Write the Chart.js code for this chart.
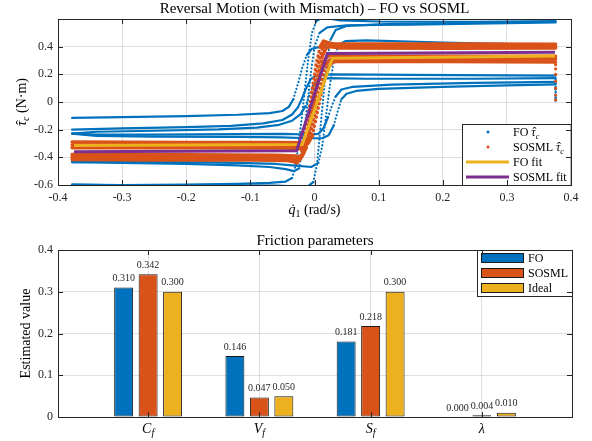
<!DOCTYPE html>
<html>
<head>
<meta charset="utf-8">
<script src="https://cdn.jsdelivr.net/npm/chart.js@4.4.1/dist/chart.umd.min.js"></script>
<style>
  body { margin: 0; background: #fff; }
  canvas { display: block; }
</style>
</head>
<body>
<canvas id="motion" width="592" height="225"></canvas>
<canvas id="params" width="592" height="216"></canvas>
<script>
// ---- data ----
// top plot: [velocity (rad/s), torque estimate (N·m)]
const foCurves = [
  [[-0.378,-0.598],[-0.3,-0.600],[-0.2,-0.598],[-0.12,-0.592],[-0.07,-0.585],[-0.045,-0.575],[-0.035,-0.55],[-0.029,-0.45],[-0.022,-0.2],[-0.016,0.05],[-0.010,0.3],[-0.004,0.5],[0.003,0.585],[0.012,0.61],[0.022,0.605],[0.04,0.59],[0.1,0.582],[0.25,0.58],[0.376,0.585]],
  [[-0.378,-0.598],[-0.3,-0.603],[-0.15,-0.603],[-0.06,-0.605],[-0.03,-0.61],[-0.012,-0.615],[-0.002,-0.58],[0.004,-0.45],[0.009,-0.2],[0.014,0.05],[0.019,0.28],[0.025,0.45],[0.033,0.52],[0.05,0.55],[0.12,0.565],[0.25,0.572],[0.376,0.58]],
  [[-0.378,-0.435],[-0.3,-0.44],[-0.2,-0.448],[-0.12,-0.458],[-0.07,-0.47],[-0.045,-0.485],[-0.032,-0.5],[-0.024,-0.48],[-0.018,-0.3],[-0.012,-0.05],[-0.006,0.2],[0.0,0.4],[0.008,0.5],[0.02,0.54],[0.05,0.555],[0.15,0.56],[0.376,0.575]],
  [[-0.378,-0.435],[-0.3,-0.432],[-0.2,-0.435],[-0.12,-0.44],[-0.06,-0.448],[-0.03,-0.46],[-0.005,-0.47],[0.006,-0.44],[0.012,-0.32],[0.018,-0.1],[0.024,0.12],[0.03,0.3],[0.037,0.41],[0.048,0.44],[0.08,0.445],[0.2,0.43],[0.376,0.412]],
  [[-0.378,-0.228],[-0.34,-0.245],[-0.25,-0.25],[-0.12,-0.252],[-0.05,-0.256],[-0.01,-0.262],[0.012,-0.262],[0.022,-0.24],[0.03,-0.17],[0.036,-0.07],[0.042,0.02],[0.05,0.06],[0.065,0.08],[0.1,0.095],[0.2,0.11],[0.3,0.12],[0.376,0.128]],
  [[-0.378,-0.228],[-0.34,-0.236],[-0.25,-0.236],[-0.12,-0.232],[-0.05,-0.23],[-0.01,-0.235],[0.006,-0.23],[0.014,-0.19],[0.021,-0.11],[0.027,-0.03],[0.033,0.04],[0.042,0.09],[0.06,0.11],[0.12,0.125],[0.25,0.138],[0.376,0.145]],
  [[-0.378,-0.228],[-0.34,-0.215],[-0.25,-0.208],[-0.15,-0.198],[-0.09,-0.185],[-0.055,-0.165],[-0.035,-0.135],[-0.022,-0.09],[-0.014,-0.03],[-0.008,0.05],[-0.002,0.12],[0.006,0.16],[0.02,0.172],[0.08,0.168],[0.25,0.168],[0.376,0.172]],
  [[-0.378,-0.2],[-0.3,-0.19],[-0.2,-0.182],[-0.13,-0.172],[-0.08,-0.155],[-0.05,-0.13],[-0.035,-0.09],[-0.026,-0.04],[-0.02,0.02],[-0.013,0.1],[-0.006,0.165],[0.004,0.195],[0.03,0.2],[0.15,0.196],[0.376,0.19]],
  [[-0.378,-0.115],[-0.3,-0.11],[-0.2,-0.102],[-0.12,-0.092],[-0.07,-0.08],[-0.05,-0.065],[-0.04,-0.035],[-0.033,0.02],[-0.026,0.13],[-0.019,0.25],[-0.012,0.34],[-0.004,0.385],[0.01,0.4],[0.06,0.403],[0.2,0.4],[0.376,0.398]]
];
const foEndDrop = [[0.376,0.16],[0.376,0.135],[0.376,0.11],[0.376,0.09],[0.376,0.07],[0.376,0.05],[0.376,0.035],[0.376,0.02],[0.376,0.01]];

const sosmlCurves = [
  [[-0.378,-0.415],[-0.25,-0.42],[-0.1,-0.42],[-0.045,-0.422],[-0.033,-0.43],[-0.027,-0.44],[-0.021,-0.39],[-0.013,-0.2],[-0.005,0.05],[0.003,0.28],[0.009,0.40],[0.014,0.44],[0.02,0.43],[0.03,0.42],[0.1,0.42],[0.25,0.42],[0.376,0.418]],
  [[-0.378,-0.4],[-0.25,-0.4],[-0.1,-0.402],[-0.04,-0.405],[-0.03,-0.415],[-0.023,-0.42],[-0.017,-0.37],[-0.009,-0.18],[-0.001,0.08],[0.007,0.3],[0.013,0.4],[0.019,0.425],[0.028,0.405],[0.1,0.4],[0.376,0.4]],
  [[-0.378,-0.38],[-0.2,-0.382],[-0.06,-0.385],[-0.03,-0.39],[-0.02,-0.395],[-0.013,-0.33],[-0.005,-0.12],[0.003,0.12],[0.011,0.32],[0.018,0.39],[0.026,0.4],[0.04,0.39],[0.2,0.388],[0.376,0.39]],
  [[-0.378,-0.33],[-0.2,-0.33],[-0.06,-0.332],[-0.03,-0.335],[-0.018,-0.34],[-0.011,-0.28],[-0.003,-0.08],[0.005,0.13],[0.013,0.29],[0.021,0.335],[0.03,0.34],[0.05,0.332],[0.2,0.33],[0.376,0.33]],
  [[-0.378,-0.31],[-0.2,-0.31],[-0.06,-0.312],[-0.025,-0.315],[-0.014,-0.32],[-0.007,-0.26],[0.001,-0.07],[0.009,0.12],[0.017,0.27],[0.025,0.31],[0.035,0.315],[0.2,0.31],[0.376,0.31]],
  [[-0.378,-0.29],[-0.2,-0.292],[-0.06,-0.293],[-0.02,-0.295],[-0.01,-0.3],[-0.003,-0.24],[0.005,-0.06],[0.013,0.12],[0.021,0.25],[0.029,0.29],[0.04,0.295],[0.2,0.292],[0.376,0.29]]
];
const sosmlEndDrop = [[0.376,0.27],[0.376,0.24],[0.376,0.2],[0.376,0.15],[0.376,0.1],[0.376,0.05],[0.376,0.015]];

const foFit = [[-0.375,-0.315],[-0.019,-0.308],[0.028,0.316],[0.375,0.332]];
const sosmlFit = [[-0.375,-0.36],[-0.028,-0.352],[0.02,0.35],[0.375,0.36]];

const motionSeries = ['FO τ̂_c', 'SOSML τ̂_c', 'FO fit', 'SOSML fit'];

// bottom plot
const params = ['C_f', 'V_f', 'S_f', 'λ'];
const barSeries = ['FO', 'SOSML', 'Ideal'];
const foVals = [0.310, 0.146, 0.181, 0.000];
const sosmlVals = [0.342, 0.047, 0.218, 0.004];
const idealVals = [0.300, 0.050, 0.300, 0.010];

// ---- styling ----
const BLUE = '#0072BD', ORANGE = '#D95319', YELLOW = '#EDB120', PURPLE = '#7E2F8E';
const AX = '#262626', GRID = 'rgba(38,38,38,0.15)';
const FONT = '"Liberation Serif", "Times New Roman", serif';

// tiny latex-ish text: "_x" makes a subscript, combining hat / dot become accents
function tex(s, allItalic) {
  const ch = Array.from(s), out = [];
  for (let i = 0; i < ch.length; i++) {
    let c = ch[i], sub = false;
    if (c === '_') { sub = true; c = ch[++i]; }
    let acc = null;
    if (ch[i + 1] === '\u0302') { acc = '\u02C6'; i++; }
    else if (ch[i + 1] === '\u0307') { acc = '\u02D9'; i++; }
    const it = allItalic ? /\p{L}/u.test(c) : (acc !== null || (sub && /[a-z]/.test(c)));
    out.push({ c, sub, acc, it });
  }
  return out;
}
const fontFor = (p, size) => `${p.it ? 'italic ' : ''}${p.sub ? Math.round(size * 0.7) : size}px ${FONT}`;
function texWidth(ctx, parts, size) {
  let w = 0;
  parts.forEach(p => { ctx.font = fontFor(p, size); w += ctx.measureText(p.c).width; });
  return w;
}
function drawTex(ctx, parts, x, y, size, align) {
  let cx = align === 'center' ? x - texWidth(ctx, parts, size) / 2 : x;
  ctx.textBaseline = 'alphabetic';
  parts.forEach(p => {
    ctx.font = fontFor(p, size);
    ctx.textAlign = 'left';
    const pw = ctx.measureText(p.c).width;
    ctx.fillText(p.c, cx, y + (p.sub ? size * 0.22 : 0));
    if (p.acc) {
      ctx.font = fontFor({}, size);
      ctx.textAlign = 'center';
      ctx.fillText(p.acc, cx + pw / 2 + size * 0.08, y);
    }
    cx += pw;
  });
}

function drawLegend(ctx, a, items, anchor) {
  const size = 12;
  const tw = Math.max(...items.map(it => texWidth(ctx, tex(it.label), size)));
  const w = 51 + tw + 4, h = 15 * items.length + 1;
  const x0 = Math.round(a.right - w), y0 = Math.round(anchor === 'bottom' ? a.bottom - h : a.top);
  ctx.fillStyle = '#fff';
  ctx.fillRect(x0, y0, w, h);
  ctx.strokeStyle = AX; ctx.lineWidth = 1;
  ctx.strokeRect(x0 + 0.5, y0 + 0.5, w, h);
  items.forEach((it, i) => {
    const cy = y0 + 8 + 15 * i;
    if (it.kind === 'dot') {
      ctx.fillStyle = it.color;
      ctx.beginPath(); ctx.arc(x0 + 26, cy, 1.5, 0, Math.PI * 2); ctx.fill();
    } else if (it.kind === 'line') {
      ctx.strokeStyle = it.color; ctx.lineWidth = 3;
      ctx.beginPath(); ctx.moveTo(x0 + 4, cy); ctx.lineTo(x0 + 47, cy); ctx.stroke();
    } else {
      ctx.fillStyle = it.color; ctx.fillRect(x0 + 4, cy - 5, 43, 10);
      ctx.strokeStyle = '#1a1a1a'; ctx.lineWidth = 1; ctx.strokeRect(x0 + 4.5, cy - 4.5, 42, 9);
    }
    ctx.fillStyle = '#000';
    drawTex(ctx, tex(it.label), x0 + 51, cy + 4, size, 'left');
  });
}

// axes box, inward ticks, titles and legend, matlab style
function makeDecor(cfg) {
  return {
    id: 'decor',
    afterDraw(chart) {
      const ctx = chart.ctx, a = chart.chartArea;
      const xs = chart.scales.x, ys = chart.scales.y;
      ctx.save();
      if (cfg.legend) drawLegend(ctx, a, cfg.legend, cfg.legendAnchor);
      ctx.strokeStyle = AX; ctx.lineWidth = 1;
      ctx.beginPath();
      xs.ticks.forEach(t => {
        const p = Math.round(xs.getPixelForValue(t.value)) + 0.5;
        ctx.moveTo(p, a.bottom); ctx.lineTo(p, a.bottom - 5);
        ctx.moveTo(p, a.top); ctx.lineTo(p, a.top + 5);
      });
      ys.ticks.forEach(t => {
        const p = Math.round(ys.getPixelForValue(t.value)) + 0.5;
        ctx.moveTo(a.left, p); ctx.lineTo(a.left + 5, p);
        ctx.moveTo(a.right, p); ctx.lineTo(a.right - 5, p);
      });
      ctx.stroke();
      ctx.strokeRect(Math.round(a.left) + 0.5, Math.round(a.top) + 0.5, Math.round(a.right - a.left), Math.round(a.bottom - a.top));

      ctx.fillStyle = '#000';
      const mid = (a.left + a.right) / 2;
      drawTex(ctx, tex(cfg.title), mid, cfg.titleY, 15, 'center');
      if (cfg.xTitle) drawTex(ctx, tex(cfg.xTitle), mid, cfg.xTitleY, 14, 'center');
      if (cfg.xLabels) {
        xs.ticks.forEach((t, i) => drawTex(ctx, tex(cfg.xLabels[i], true), xs.getPixelForValue(t.value), cfg.xLabelY, 14, 'center'));
      }
      ctx.translate(cfg.yTitleX, (a.top + a.bottom) / 2);
      ctx.rotate(-Math.PI / 2);
      drawTex(ctx, tex(cfg.yTitle), 0, 0, 14, 'center');
      ctx.restore();
    }
  };
}

const tickFont = { family: FONT, size: 12 };
const steep = (c, dash) => (Math.abs(c.p1.y - c.p0.y) > 2.5 * Math.abs(c.p1.x - c.p0.x) ? dash : undefined);
const pts = arr => arr.map(([x, y]) => ({ x, y }));

function curveSet(curves, label, color, width, dash, order) {
  return curves.map(c => ({
    label, data: pts(c), showLine: true, borderColor: color, backgroundColor: color,
    borderWidth: width, pointRadius: 0, borderCapStyle: 'round', borderJoinStyle: 'round',
    segment: { borderDash: ctx => steep(ctx, dash) }, order
  }));
}
function dots(arr, label, color, r, order) {
  return { label, data: pts(arr), showLine: false, pointRadius: r, pointBorderWidth: 0, backgroundColor: color, order };
}
function fitLine(arr, label, color, order) {
  return { label, data: pts(arr), showLine: true, borderColor: color, borderWidth: 3, pointRadius: 0, order };
}

new Chart(document.getElementById('motion'), {
  type: 'scatter',
  data: {
    datasets: [
      ...curveSet(foCurves, motionSeries[0], BLUE, 2.2, [0.1, 3.5], 3),
      dots(foEndDrop, motionSeries[0], BLUE, 1.2, 3),
      ...curveSet(sosmlCurves, motionSeries[1], ORANGE, 3.5, [0.1, 4.5], 2),
      dots(sosmlEndDrop, motionSeries[1], ORANGE, 1.6, 2),
      fitLine(foFit, motionSeries[2], YELLOW, 1),
      fitLine(sosmlFit, motionSeries[3], PURPLE, 0)
    ]
  },
  options: {
    responsive: false,
    animation: false,
    layout: { padding: { top: 19, right: 21, left: 0, bottom: 0 } },
    plugins: { legend: { display: false }, tooltip: { enabled: false } },
    scales: {
      x: {
        min: -0.4, max: 0.4,
        afterFit: s => { s.height = 40; },
        ticks: { stepSize: 0.1, padding: 6, color: AX, font: tickFont, callback: v => String(+v.toFixed(1)) },
        grid: { color: GRID, drawTicks: false },
        border: { display: false }
      },
      y: {
        min: -0.6, max: 0.6,
        afterFit: s => { s.width = 58; },
        ticks: { stepSize: 0.2, padding: 5, color: AX, font: tickFont,
                 callback: v => (v > 0.59 ? '' : String(+v.toFixed(1))) },
        grid: { color: GRID, drawTicks: false },
        border: { display: false }
      }
    }
  },
  plugins: [makeDecor({
    title: 'Reversal Motion (with Mismatch) – FO vs SOSML', titleY: 13,
    xTitle: 'q̇_1 (rad/s)', xTitleY: 214,
    yTitle: 'τ̂_c (N·m)', yTitleX: 26,
    legendAnchor: 'bottom',
    legend: [
      { label: motionSeries[0], color: BLUE, kind: 'dot' },
      { label: motionSeries[1], color: ORANGE, kind: 'dot' },
      { label: motionSeries[2], color: YELLOW, kind: 'line' },
      { label: motionSeries[3], color: PURPLE, kind: 'line' }
    ]
  })]
});

// value labels above bars
const barLabels = {
  id: 'barLabels',
  afterDatasetsDraw(chart) {
    const ctx = chart.ctx;
    ctx.save();
    ctx.font = `10px ${FONT}`;
    ctx.fillStyle = AX;
    ctx.textAlign = 'center';
    ctx.textBaseline = 'bottom';
    chart.data.datasets.forEach((ds, i) => {
      chart.getDatasetMeta(i).data.forEach((bar, j) => {
        ctx.fillText(ds.data[j].y.toFixed(3), bar.x, bar.y - 4);
      });
    });
    ctx.restore();
  }
};

const barColors = [BLUE, ORANGE, YELLOW];
const barValues = [foVals, sosmlVals, idealVals];

new Chart(document.getElementById('params'), {
  type: 'bar',
  data: {
    datasets: barSeries.map((name, k) => ({
      label: name,
      data: barValues[k].map((v, i) => ({ x: i + 1, y: v })),
      backgroundColor: barColors[k],
      borderColor: '#1a1a1a',
      borderWidth: 1,
      borderSkipped: false,
      categoryPercentage: 0.66,
      barPercentage: 0.775
    }))
  },
  options: {
    responsive: false,
    animation: false,
    layout: { padding: { top: 25, right: 20, left: 0, bottom: 0 } },
    plugins: { legend: { display: false }, tooltip: { enabled: false } },
    scales: {
      x: {
        type: 'linear', min: 0.19, max: 4.81, offset: false,
        afterBuildTicks: s => { s.ticks = params.map((_, i) => ({ value: i + 1 })); },
        afterFit: s => { s.height = 24; },
        ticks: { display: false },
        grid: { color: GRID, drawTicks: false, offset: false },
        border: { display: false }
      },
      y: {
        min: 0, max: 0.4,
        afterFit: s => { s.width = 58; },
        ticks: { stepSize: 0.1, padding: 5, color: AX, font: tickFont, callback: v => String(+v.toFixed(1)) },
        grid: { color: GRID, drawTicks: false },
        border: { display: false }
      }
    }
  },
  plugins: [barLabels, makeDecor({
    title: 'Friction parameters', titleY: 20,
    yTitle: 'Estimated value', yTitleX: 30,
    xLabels: params, xLabelY: 208,
    legendAnchor: 'top',
    legend: barSeries.map((name, k) => ({ label: name, color: barColors[k], kind: 'rect' }))
  })]
});
</script>
</body>
</html>
